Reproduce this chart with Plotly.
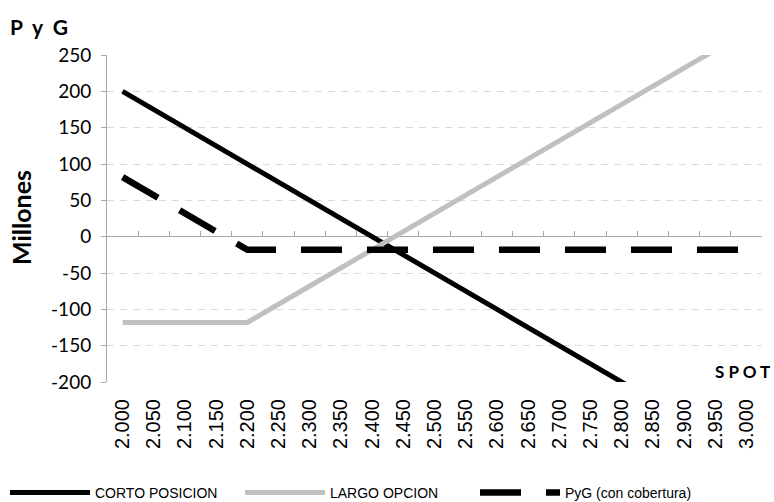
import plotly.graph_objects as go

# ---- data ----
spot = ["2.000", "2.050", "2.100", "2.150", "2.200", "2.250", "2.300", "2.350", "2.400", "2.450",
        "2.500", "2.550", "2.600", "2.650", "2.700", "2.750", "2.800", "2.850", "2.900", "2.950", "3.000"]
corto_posicion = [200, 175, 150, 125, 100, 75, 50, 25, 0, -25, -50, -75, -100, -125, -150, -175,
                  -200, -225, -250, -275, -300]
largo_opcion = [-118, -118, -118, -118, -118, -93, -68, -43, -18, 7, 32, 57, 82, 107, 132, 157,
                 182, 207, 232, 257, 282]
pyg_cobertura = [82, 57, 32, 7, -18, -18, -18, -18, -18, -18, -18, -18, -18, -18, -18, -18,
                 -18, -18, -18, -18, -18]
y_ticks = [-200, -150, -100, -50, 0, 50, 100, 150, 200, 250]
y_tick_labels = ["-200", "-150", "-100", "-50", "0", "50", "100", "150", "200", "250"]

AX = "#a6a6a6"
GRID = "#d9d9d9"
TXT = "#000000"

fig = go.Figure()
fig.add_trace(go.Scatter(x=spot, y=corto_posicion, mode="lines", name="CORTO POSICION",
                         line=dict(color="#000000", width=5)))
fig.add_trace(go.Scatter(x=spot, y=largo_opcion, mode="lines", name="LARGO OPCION",
                         line=dict(color="#c0c0c0", width=5)))
fig.add_trace(go.Scatter(x=spot, y=pyg_cobertura, mode="lines", name="PyG (con cobertura)",
                         line=dict(color="#000000", width=6.5, dash="41px,25px")))
# helper trace to anchor the tick axis drawn at y = 0
fig.add_trace(go.Scatter(x=list(range(len(spot))), y=[None] * len(spot), xaxis="x2",
                         showlegend=False, hoverinfo="skip"))

n = len(spot)
PW, PH = 655, 327  # plot area size in px
fig.update_layout(
    width=774, height=502,
    margin=dict(l=107, r=12, t=55, b=120, autoexpand=False),
    paper_bgcolor="white", plot_bgcolor="white",
    showlegend=True,
    xaxis=dict(type="category", range=[-0.5, n - 0.5], tickangle=-90,
               tickfont=dict(family="Liberation Sans, Arial", size=20, color=TXT),
               showline=False, ticks="", showgrid=False, zeroline=False,
               ticklabelstandoff=12),
    xaxis2=dict(overlaying="x", anchor="free",
                position=(0 - y_ticks[0]) / (y_ticks[-1] - y_ticks[0]),
                range=[-0.5, n - 0.5], tickmode="linear", tick0=-0.5, dtick=1,
                ticks="inside", ticklen=6, tickcolor=AX, tickwidth=1,
                showticklabels=False, showgrid=False, showline=False, zeroline=False),
    yaxis=dict(range=[y_ticks[0], y_ticks[-1]], tickvals=y_ticks, ticktext=y_tick_labels,
               showgrid=True, gridcolor=GRID, griddash="7px,6px", gridwidth=1,
               showline=True, linecolor=AX, linewidth=1,
               ticks="outside", ticklen=5, tickcolor=AX,
               tickfont=dict(family="Lato, Open Sans", size=19, color=TXT),
               zeroline=True, zerolinecolor=AX, zerolinewidth=1,
               ticklabelstandoff=6),
    legend=dict(orientation="h", xref="paper", yref="paper",
                x=-102 / PW, y=-(493 - 382) / PH, xanchor="left", yanchor="middle",
                itemwidth=80, entrywidth=140, entrywidthmode="pixels",
                font=dict(family="Liberation Sans, Arial", size=14, color=TXT),
                bgcolor="rgba(0,0,0,0)"),
    annotations=[
        dict(text="<b>P\u00a0 y\u00a0 G</b>", xref="paper", yref="paper",
             x=-99 / PW, y=1 + 29 / PH, xanchor="left", yanchor="middle", showarrow=False,
             font=dict(family="Lato, Open Sans", size=21, color=TXT)),
        dict(text="<b>Millones</b>", xref="paper", yref="paper", textangle=-90,
             x=-86 / PW, y=(382 - 218) / PH, xanchor="center", yanchor="middle", showarrow=False,
             font=dict(family="Lato, Open Sans", size=25, color=TXT)),
        dict(text="<b>S P O T</b>", xref="paper", yref="paper",
             x=1 + 10 / PW, y=(382 - 371) / PH, xanchor="right", yanchor="middle", showarrow=False,
             font=dict(family="Lato, Open Sans", size=17, color=TXT)),
    ],
)

fig.write_html("out.html", config={"displayModeBar": False},
               post_script="document.body.style.margin='0';")
